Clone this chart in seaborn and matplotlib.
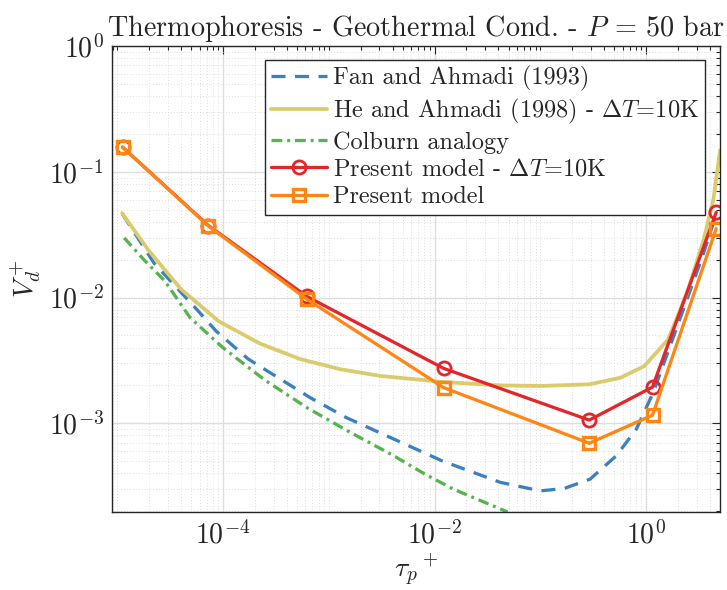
import numpy as np
import pandas as pd
import matplotlib
matplotlib.use("Agg")
import matplotlib.pyplot as plt
from matplotlib.ticker import FixedLocator, LogLocator, NullFormatter
import seaborn as sns

# ---------------- data ----------------
tau_fan = [1.11e-5, 2.22e-5, 5.64e-5, 8.59e-5, 1.73e-4, 6.65e-4, 1.46e-3, 1.18e-2,
           4.18e-2, 9.98e-2, 0.168, 0.296, 0.522, 0.807, 1.17, 3.38, 4.68]
vd_fan = [4.65e-2, 1.88e-2, 8.04e-3, 5.41e-3, 3.24e-3, 1.60e-3, 1.11e-3, 5.02e-4,
          3.39e-4, 2.90e-4, 3.03e-4, 3.60e-4, 5.51e-4, 8.95e-4, 1.76e-3, 2.07e-2, 4.8e-2]

tau_he = [1.11e-5, 1.95e-5, 3.98e-5, 9.12e-5, 2.24e-4, 5.35e-4, 1.28e-3, 3.05e-3,
          1.21e-2, 4.18e-2, 9.98e-2, 0.289, 0.570, 0.962, 1.62, 2.44, 3.50, 4.33, 5.01]
vd_he = [4.69e-2, 2.40e-2, 1.17e-2, 6.46e-3, 4.3e-3, 3.24e-3, 2.69e-3, 2.38e-3,
         2.13e-3, 2.00e-3, 1.98e-3, 2.04e-3, 2.30e-3, 2.85e-3, 4.65e-3, 1.09e-2, 2.88e-2,
         6.03e-2, 0.148]

tau_col = [1.16e-5, 1.78e-5, 2.82e-5, 4.88e-5, 1.0e-4, 2.51e-4, 6.31e-4, 1.58e-3,
           3.98e-3, 7.94e-3, 1.51e-2, 4.9e-2]
vd_col = [2.98e-2, 2.0e-2, 1.35e-2, 6.9e-3, 3.98e-3, 2.19e-3, 1.32e-3, 8.5e-4,
          5.6e-4, 3.98e-4, 2.99e-4, 1.97e-4]

tau_model = [1.12e-5, 7.26e-5, 6.19e-4, 1.22e-2, 0.29, 1.15, 4.6]
vd_model_dT = [0.157, 0.0373, 0.0102, 0.00273, 0.00106, 0.00194, 0.0475]
vd_model = [0.157, 0.0370, 0.0097, 0.00192, 6.94e-4, 1.16e-3, 0.0353]

labels = ["Fan and Ahmadi (1993)",
          r"He and Ahmadi (1998) - $\Delta T$=10K",
          "Colburn analogy",
          r"Present model - $\Delta T$=10K",
          "Present model"]
title = r"Thermophoresis - Geothermal Cond. - $P$ = 50 bar"
xlabel = r"${\tau_p}^+$"
ylabel = r"$V_d^+$"
xticks = [1e-4, 1e-2, 1e0]
yticks = [1e-3, 1e-2, 1e-1, 1e0]

# ---------------- style ----------------
sns.set_theme(style="whitegrid")
plt.rcParams.update({
    "font.family": "cmr10",
    "mathtext.fontset": "cm",
    "axes.formatter.use_mathtext": True,
    "axes.edgecolor": "black",
    "axes.linewidth": 1.0,
})

c_blue = "#3c80bd"
c_yel = "#dacb6c"
c_green = "#56b350"
c_red = "#e3262b"
c_orange = "#ff8514"

fig = plt.figure(figsize=(7.27, 5.90), dpi=100)
ax = fig.add_axes([112 / 727, 1 - 512 / 590, (720 - 112) / 727, (512 - 46) / 590])
ax.set_xscale("log")
ax.set_yscale("log")

lw = 2.35
sns.lineplot(x=tau_fan, y=vd_fan, ax=ax, color=c_blue, lw=lw, sort=False,
             estimator=None, label=labels[0])
ax.lines[-1].set_dashes((4.3, 2.9))
sns.lineplot(x=tau_he, y=vd_he, ax=ax, color=c_yel, lw=2.7, sort=False,
             estimator=None, label=labels[1])
sns.lineplot(x=tau_col, y=vd_col, ax=ax, color=c_green, lw=lw, sort=False,
             estimator=None, label=labels[2])
ax.lines[-1].set_dashes((3.3, 1.5, 0.9, 1.5))
sns.lineplot(x=tau_model, y=vd_model_dT, ax=ax, color=c_red, lw=lw, sort=False,
             estimator=None, marker="o", markersize=9.5, markerfacecolor="none",
             markeredgecolor=c_red, markeredgewidth=2.0, label=labels[3])
sns.lineplot(x=tau_model, y=vd_model, ax=ax, color=c_orange, lw=lw, sort=False,
             estimator=None, marker="s", markersize=8, markerfacecolor="none",
             markeredgecolor=c_orange, markeredgewidth=2.4, label=labels[4])

ax.set_xlim(8.9e-6, 5.0)
ax.set_ylim(1.97e-4, 1.0)

ax.xaxis.set_major_locator(FixedLocator(xticks))
ax.xaxis.set_minor_locator(LogLocator(base=10, subs=np.arange(1, 10), numticks=100))
ax.xaxis.set_minor_formatter(NullFormatter())
ax.yaxis.set_major_locator(FixedLocator(yticks))
ax.yaxis.set_minor_locator(LogLocator(base=10, subs=np.arange(2, 10), numticks=100))
ax.yaxis.set_minor_formatter(NullFormatter())

ax.grid(True, which="major", color="#dedede", lw=1.0, ls="-")
ax.grid(True, which="minor", color="#d2d2d2", lw=0.6, ls=(0, (1, 2.5)))
ax.set_axisbelow(True)

ax.tick_params(which="both", direction="in", top=True, right=True, color="#262626",
               width=0.8)
ax.tick_params(which="major", length=5.5, labelsize=20, pad=6)
ax.tick_params(which="minor", length=3)
for s in ax.spines.values():
    s.set_color("#262626")
    s.set_linewidth(1.0)

ax.set_title(title, fontsize=20.3, pad=7)
ax.set_xlabel(xlabel, fontsize=20, labelpad=2)
ax.set_ylabel(ylabel, fontsize=20, labelpad=4)

leg = ax.legend(loc="upper right", bbox_to_anchor=(0.976, 0.97), fontsize=17.5,
                frameon=True, fancybox=False, framealpha=1, edgecolor="#262626",
                borderpad=0.25, labelspacing=0.22, handlelength=2.3,
                handletextpad=0.25, borderaxespad=0.0)
leg.get_frame().set_linewidth(1.0)

fig.savefig("out.png", dpi=100)
